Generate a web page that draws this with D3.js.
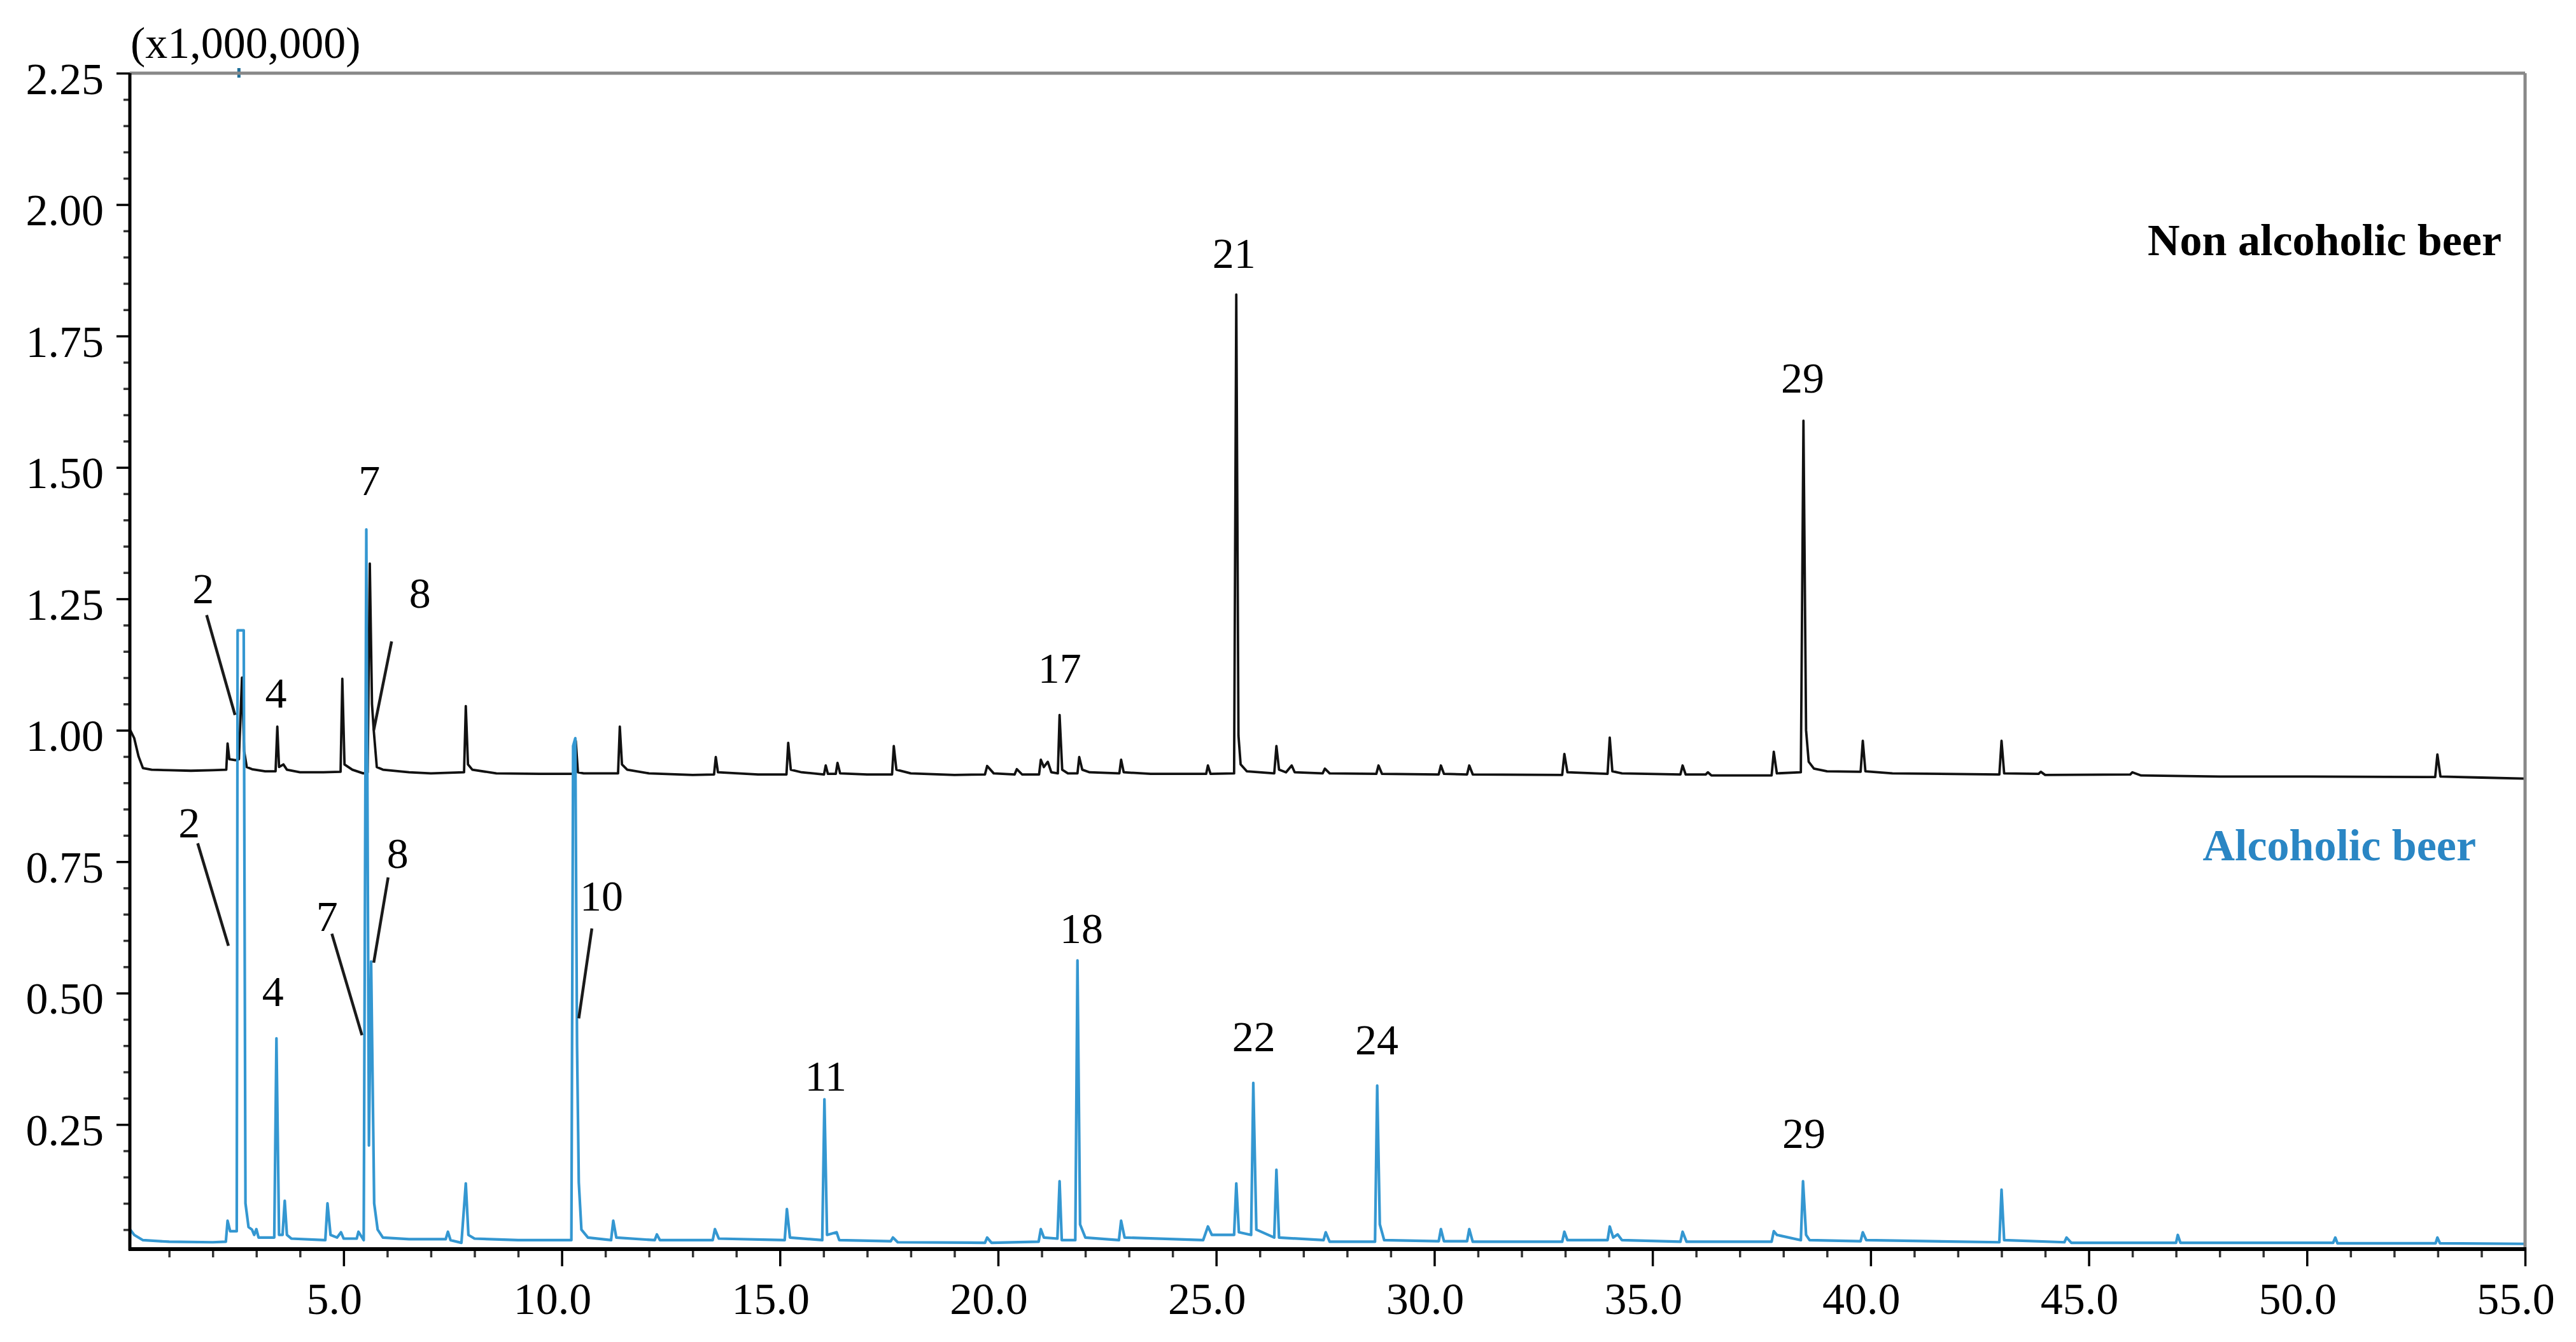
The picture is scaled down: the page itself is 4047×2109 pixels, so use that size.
<!DOCTYPE html>
<html>
<head>
<meta charset="utf-8">
<script src="https://cdn.jsdelivr.net/npm/d3@7"></script>
<style>
  body { margin: 0; background: #fff; }
  text { font-family: "Liberation Serif", "DejaVu Serif", serif; }
</style>
</head>
<body>
<div class="chart"></div>
<script>
// retention time (min) vs. intensity (x1,000,000)
var nonAlcoholicTrace = [
  [0.11, 1.00], [0.2, 0.985], [0.3, 0.95], [0.4, 0.928], [0.6, 0.925], [1.0, 0.924], [1.5, 0.923], [2.0, 0.924], [2.31, 0.925],
  [2.34, 0.975], [2.38, 0.945], [2.52, 0.943], [2.6, 0.945], [2.67, 1.10], [2.72, 0.96], [2.78, 0.93], [2.9, 0.926], [3.2, 0.922],
  [3.44, 0.922], [3.48, 1.007], [3.52, 0.93], [3.62, 0.935], [3.7, 0.925], [4.0, 0.92], [4.5, 0.92], [4.93, 0.921],
  [4.97, 1.098], [5.02, 0.935], [5.2, 0.925], [5.45, 0.918], [5.55, 0.92], [5.6, 1.317], [5.65, 1.05], [5.69, 1.0], [5.76, 0.93],
  [5.9, 0.925], [6.5, 0.92], [7.0, 0.918], [7.76, 0.92], [7.8, 1.046], [7.85, 0.935], [7.95, 0.925], [8.5, 0.918], [9.5, 0.917],
  [10.28, 0.917], [10.32, 0.98], [10.37, 0.92], [10.5, 0.918], [11.29, 0.918], [11.33, 1.007], [11.38, 0.935], [11.5, 0.925],
  [12.0, 0.918], [13.0, 0.915], [13.49, 0.916], [13.53, 0.949], [13.58, 0.92], [14.5, 0.916], [15.15, 0.916], [15.19, 0.976],
  [15.25, 0.925], [15.5, 0.92], [16.01, 0.916], [16.05, 0.933], [16.1, 0.917], [16.28, 0.917], [16.32, 0.938], [16.38, 0.918],
  [17.0, 0.916], [17.57, 0.916], [17.61, 0.97], [17.67, 0.925], [18.0, 0.918], [19.0, 0.915], [19.7, 0.916], [19.75, 0.932],
  [19.9, 0.918], [20.38, 0.916], [20.43, 0.926], [20.55, 0.916], [20.94, 0.916], [20.98, 0.944], [21.05, 0.93], [21.14, 0.94],
  [21.22, 0.92], [21.37, 0.918], [21.41, 1.029], [21.47, 0.925], [21.6, 0.918], [21.82, 0.918], [21.86, 0.949], [21.93, 0.925],
  [22.1, 0.92], [22.78, 0.918], [22.82, 0.944], [22.88, 0.92], [23.5, 0.917], [24.77, 0.917], [24.81, 0.933], [24.87, 0.917],
  [25.41, 0.918], [25.46, 1.829], [25.51, 0.99], [25.56, 0.935], [25.7, 0.922], [26.33, 0.918], [26.38, 0.97], [26.44, 0.925],
  [26.6, 0.92], [26.73, 0.933], [26.8, 0.92], [27.44, 0.918], [27.49, 0.927], [27.6, 0.918], [28.67, 0.917], [28.72, 0.933],
  [28.8, 0.917], [30.1, 0.916], [30.15, 0.933], [30.22, 0.917], [30.75, 0.916], [30.8, 0.933], [30.88, 0.916], [32.93, 0.915],
  [32.98, 0.955], [33.05, 0.92], [33.97, 0.917], [34.02, 0.986], [34.08, 0.922], [34.3, 0.918], [35.64, 0.916], [35.69, 0.933],
  [35.76, 0.916], [36.22, 0.916], [36.27, 0.92], [36.35, 0.914], [37.73, 0.914], [37.78, 0.959], [37.85, 0.918], [38.4, 0.92],
  [38.46, 1.589], [38.52, 1.0], [38.58, 0.94], [38.7, 0.927], [39.0, 0.922], [39.77, 0.921], [39.82, 0.98], [39.88, 0.922],
  [40.5, 0.918], [42.95, 0.916], [43.0, 0.98], [43.06, 0.918], [43.85, 0.917], [43.9, 0.921], [44.0, 0.915], [45.95, 0.916],
  [46.0, 0.92], [46.2, 0.914], [48.0, 0.912], [50.0, 0.912], [52.94, 0.911], [52.99, 0.954], [53.06, 0.912], [54.0, 0.91], [55.0, 0.908]
];

var alcoholicTrace = [
  [0.11, 0.05], [0.2, 0.04], [0.4, 0.03], [1.0, 0.027], [2.0, 0.026], [2.3, 0.027], [2.34, 0.067], [2.4, 0.047], [2.55, 0.047],
  [2.57, 1.19], [2.71, 1.19], [2.75, 0.1], [2.82, 0.055], [2.9, 0.05], [2.95, 0.04], [3.0, 0.051], [3.05, 0.035], [3.41, 0.035],
  [3.46, 0.414], [3.52, 0.04], [3.6, 0.04], [3.65, 0.105], [3.7, 0.04], [3.8, 0.033], [4.58, 0.03], [4.63, 0.1], [4.7, 0.04],
  [4.85, 0.035], [4.94, 0.045], [5.0, 0.033], [5.3, 0.033], [5.34, 0.046], [5.46, 0.03], [5.52, 1.382], [5.58, 0.21], [5.63, 0.56],
  [5.7, 0.1], [5.78, 0.05], [5.9, 0.035], [6.5, 0.032], [7.34, 0.032], [7.39, 0.046], [7.45, 0.03], [7.7, 0.025], [7.8, 0.138],
  [7.86, 0.04], [8.0, 0.033], [9.0, 0.03], [10.22, 0.03], [10.26, 0.97], [10.31, 0.985], [10.35, 0.4], [10.39, 0.14], [10.45, 0.05],
  [10.6, 0.035], [11.13, 0.03], [11.18, 0.067], [11.25, 0.035], [12.13, 0.03], [12.18, 0.041], [12.25, 0.03], [13.46, 0.03], [13.51, 0.051],
  [13.6, 0.033], [15.11, 0.03], [15.16, 0.089], [15.23, 0.035], [15.97, 0.03], [16.02, 0.298], [16.08, 0.04], [16.3, 0.045],
  [16.36, 0.03], [17.54, 0.028], [17.59, 0.035], [17.7, 0.026], [19.7, 0.025], [19.75, 0.035], [19.85, 0.025], [20.93, 0.027],
  [20.98, 0.051], [21.05, 0.035], [21.36, 0.033], [21.41, 0.142], [21.46, 0.03], [21.77, 0.03], [21.82, 0.562], [21.88, 0.06],
  [22.0, 0.035], [22.77, 0.03], [22.82, 0.067], [22.9, 0.035], [24.7, 0.03], [24.81, 0.056], [24.9, 0.04], [25.41, 0.04],
  [25.46, 0.138], [25.52, 0.045], [25.8, 0.04], [25.85, 0.329], [25.92, 0.05], [26.33, 0.035], [26.38, 0.164], [26.44, 0.035],
  [27.46, 0.03], [27.51, 0.045], [27.6, 0.027], [28.64, 0.027], [28.69, 0.324], [28.75, 0.06], [28.85, 0.03], [30.1, 0.028],
  [30.15, 0.051], [30.22, 0.028], [30.75, 0.028], [30.8, 0.051], [30.88, 0.027], [32.93, 0.027], [32.98, 0.046], [33.05, 0.03],
  [33.97, 0.03], [34.02, 0.056], [34.1, 0.035], [34.2, 0.041], [34.3, 0.03], [35.64, 0.027], [35.69, 0.046], [35.78, 0.027],
  [37.73, 0.027], [37.78, 0.047], [37.85, 0.04], [38.4, 0.03], [38.45, 0.142], [38.52, 0.04], [38.6, 0.03], [39.77, 0.028],
  [39.82, 0.045], [39.9, 0.03], [42.95, 0.026], [43.0, 0.126], [43.06, 0.03], [44.44, 0.026], [44.49, 0.035], [44.6, 0.025],
  [47.0, 0.025], [47.04, 0.04], [47.1, 0.025], [50.6, 0.025], [50.65, 0.035], [50.7, 0.024], [52.95, 0.024], [52.99, 0.035],
  [53.05, 0.024], [55.0, 0.023]
];

// peak numbers: [label, time, intensity] (text centre)
var upperLabels = [["2", 1.78, 1.27], ["4", 3.45, 1.071], ["7", 5.59, 1.476], ["8", 6.75, 1.261],
  ["17", 21.41, 1.118], ["21", 25.41, 1.907], ["29", 38.44, 1.67]];
var lowerLabels = [["2", 1.46, 0.824], ["4", 3.38, 0.503], ["7", 4.62, 0.646], ["8", 6.24, 0.766],
  ["10", 10.91, 0.685], ["11", 16.05, 0.343], ["18", 21.91, 0.623], ["22", 25.86, 0.417],
  ["24", 28.68, 0.411], ["29", 38.47, 0.233]];
// leader lines: [t1, v1, t2, v2]
var leaderLines = [[1.86, 1.219, 2.51, 1.029], [6.10, 1.169, 5.69, 1.0],
  [1.655, 0.785, 2.36, 0.59], [4.73, 0.613, 5.42, 0.42], [6.02, 0.72, 5.69, 0.558], [10.69, 0.623, 10.39, 0.452]];

var xMajorTicks = [5, 10, 15, 20, 25, 30, 35, 40, 45, 50, 55];
var yMajorTicks = [0.25, 0.5, 0.75, 1.0, 1.25, 1.5, 1.75, 2.0, 2.25];
var seriesNames = ["Non alcoholic beer", "Alcoholic beer"];

var svgWidth = 4047;
var svgHeight = 2109;
var blue = "#3497d1";

var svg = d3.select(".chart")
    .append("svg")
    .attr("width", svgWidth)
    .attr("height", svgHeight)
    .style("display", "block");

var xScale = d3.scaleLinear().domain([0.1, 55]).range([204, 3967]);
var yScale = d3.scaleLinear().domain([0.013, 2.25]).range([1963, 115]);

svg.append("defs").append("clipPath").attr("id", "plot")
    .append("rect")
    .attr("x", xScale.range()[0]).attr("y", yScale.range()[1])
    .attr("width", xScale.range()[1] - xScale.range()[0])
    .attr("height", yScale.range()[0] - yScale.range()[1]);

var line = d3.line()
    .x(function (d) { return xScale(d[0]); })
    .y(function (d) { return yScale(d[1]); });

var traces = svg.append("g").attr("clip-path", "url(#plot)");

traces.append("path")
    .datum(nonAlcoholicTrace)
    .attr("d", line)
    .attr("fill", "none")
    .attr("stroke", "#111")
    .attr("stroke-width", 3.8)
    .attr("stroke-linejoin", "round");

traces.append("path")
    .datum(alcoholicTrace)
    .attr("d", line)
    .attr("fill", "none")
    .attr("stroke", blue)
    .attr("stroke-width", 4.2)
    .attr("stroke-linejoin", "round");

// little saturation mark at the top of the frame
svg.append("line")
    .attr("x1", xScale(2.6)).attr("x2", xScale(2.6))
    .attr("y1", yScale(2.25) - 8).attr("y2", yScale(2.25) + 7)
    .attr("stroke", "#1f6f99").attr("stroke-width", 5);

// axes
var xMinor = d3.range(1, 56, 1).filter(function (d) { return d % 5 !== 0; });
var yMinor = d3.range(1, 45).map(function (d) { return d * 0.05; }).filter(function (d) { return Math.abs(d / 0.25 - Math.round(d / 0.25)) > 0.01; });

var xAxis = svg.append("g")
    .attr("transform", `translate(0,${yScale.range()[0]})`)
    .call(d3.axisBottom(xScale).tickValues(xMajorTicks).tickSize(27).tickPadding(25).tickFormat(d3.format(".1f")));
xAxis.selectAll("text").attr("font-size", 70).attr("dx", -15).attr("fill", "#000");

svg.append("g")
    .attr("transform", `translate(0,${yScale.range()[0]})`)
    .call(d3.axisBottom(xScale).tickValues(xMinor).tickSize(13).tickFormat(""))
    .selectAll("line").attr("stroke", "#333");

var yAxis = svg.append("g")
    .attr("transform", `translate(${xScale.range()[0]},0)`)
    .call(d3.axisLeft(yScale).tickValues(yMajorTicks).tickSize(21).tickPadding(20).tickFormat(d3.format(".2f")));
yAxis.selectAll("text").attr("font-size", 70).attr("dy", "0.46em").attr("fill", "#000");

svg.append("g")
    .attr("transform", `translate(${xScale.range()[0]},0)`)
    .call(d3.axisLeft(yScale).tickValues(yMinor).tickSize(10).tickFormat(""))
    .selectAll("line").attr("stroke", "#333");

svg.selectAll(".domain").remove();
svg.selectAll(".tick line").attr("stroke-width", 3.5);

// frame: top and right in grey, left and bottom in black
var x0 = xScale.range()[0], x1 = xScale.range()[1];
var yTop = yScale.range()[1], yBot = yScale.range()[0];
svg.append("line").attr("x1", x0).attr("x2", x1).attr("y1", yTop).attr("y2", yTop)
    .attr("stroke", "#888").attr("stroke-width", 5);
svg.append("line").attr("x1", x1).attr("x2", x1).attr("y1", yTop).attr("y2", yBot)
    .attr("stroke", "#888").attr("stroke-width", 5);
svg.append("line").attr("x1", x0).attr("x2", x0).attr("y1", yTop).attr("y2", yBot + 2)
    .attr("stroke", "#000").attr("stroke-width", 5);
svg.append("line").attr("x1", x0 - 2).attr("x2", x1 + 2).attr("y1", yBot).attr("y2", yBot)
    .attr("stroke", "#000").attr("stroke-width", 6);

// unit label
svg.append("text")
    .attr("x", 205).attr("y", 91)
    .attr("font-size", 70)
    .text("(x1,000,000)");

// leader lines and peak numbers
svg.selectAll(".leader")
    .data(leaderLines)
    .enter()
    .append("line")
    .attr("class", "leader")
    .attr("x1", function (d) { return xScale(d[0]); })
    .attr("y1", function (d) { return yScale(d[1]); })
    .attr("x2", function (d) { return xScale(d[2]); })
    .attr("y2", function (d) { return yScale(d[3]); })
    .attr("stroke", "#1a1a1a")
    .attr("stroke-width", 4.5);

svg.selectAll(".peakLabel")
    .data(upperLabels.concat(lowerLabels))
    .enter()
    .append("text")
    .attr("class", "peakLabel")
    .attr("x", function (d) { return xScale(d[1]); })
    .attr("y", function (d) { return yScale(d[2]); })
    .attr("dy", "0.34em")
    .attr("text-anchor", "middle")
    .attr("font-size", 68)
    .text(function (d) { return d[0]; });

// series names
svg.append("text")
    .attr("x", 3930).attr("y", 401)
    .attr("text-anchor", "end")
    .attr("font-size", 70)
    .attr("font-weight", "bold")
    .attr("fill", "#000")
    .text(seriesNames[0]);

svg.append("text")
    .attr("x", 3890).attr("y", 1352)
    .attr("text-anchor", "end")
    .attr("font-size", 70)
    .attr("font-weight", "bold")
    .attr("fill", "#2a86c4")
    .text(seriesNames[1]);
</script>
</body>
</html>
